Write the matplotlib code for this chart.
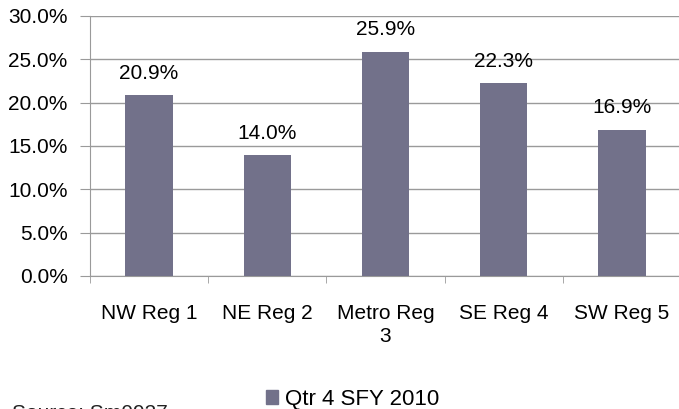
import matplotlib.pyplot as plt
from matplotlib.patches import Patch
import numpy as np

plt.rcParams['font.family'] = ['Liberation Sans', 'DejaVu Sans']

regions = ["NW Reg 1", "NE Reg 2", "Metro Reg\n3", "SE Reg 4", "SW Reg 5"]
rates = [20.9, 14.0, 25.9, 22.3, 16.9]
yticks = [0, 5, 10, 15, 20, 25, 30]
series_name = "Qtr 4 SFY 2010"
source_note = "Source: Sm0927"

bar_color = "#72718a"
grid_color = "#9a9a9a"
fs = 15

fig = plt.figure(figsize=(6.79, 4.09), dpi=100)
ax = fig.add_axes([0.1325, 0.3252, 0.8705, 0.6357])

x = np.arange(len(regions))
ax.bar(x, rates, width=0.4, color=bar_color, zorder=3)

for xi, v in zip(x, rates):
    ax.annotate(f"{v:.1f}%", (xi, v), xytext=(0, 15.5), textcoords="offset points",
                ha="center", va="center", fontsize=fs, color="black")

ax.set_xlim(-0.5, len(regions) - 0.5)
ax.set_ylim(0, 30)
ax.set_yticks(yticks)
ax.set_yticklabels([f"{t:.1f}%" for t in yticks], fontsize=fs)
ax.set_xticks(x)
ax.set_xticklabels(regions, fontsize=fs, linespacing=1.3)
ax.set_xticks(np.arange(len(regions)) - 0.5, minor=True)
ax.tick_params(axis="x", which="major", length=0, pad=20)
ax.tick_params(axis="x", which="minor", length=5, color=grid_color, direction="out")
ax.tick_params(axis="y", length=7, color=grid_color, pad=9)
ax.yaxis.grid(True, color=grid_color, linewidth=1, zorder=0)
for s in ["top", "right"]:
    ax.spines[s].set_visible(False)
for s in ["left", "bottom"]:
    ax.spines[s].set_color(grid_color)

fig.legend(handles=[Patch(color=bar_color, label=series_name)],
           loc="center left", bbox_to_anchor=(0.392, 0.024), frameon=False,
           fontsize=16, handlelength=0.55, handleheight=0.55, handletextpad=0.3,
           borderpad=0, borderaxespad=0)
fig.text(0.018, 0.013, source_note, fontsize=fs, color="#222222", va="top")

fig.savefig("out.png", dpi=100)
